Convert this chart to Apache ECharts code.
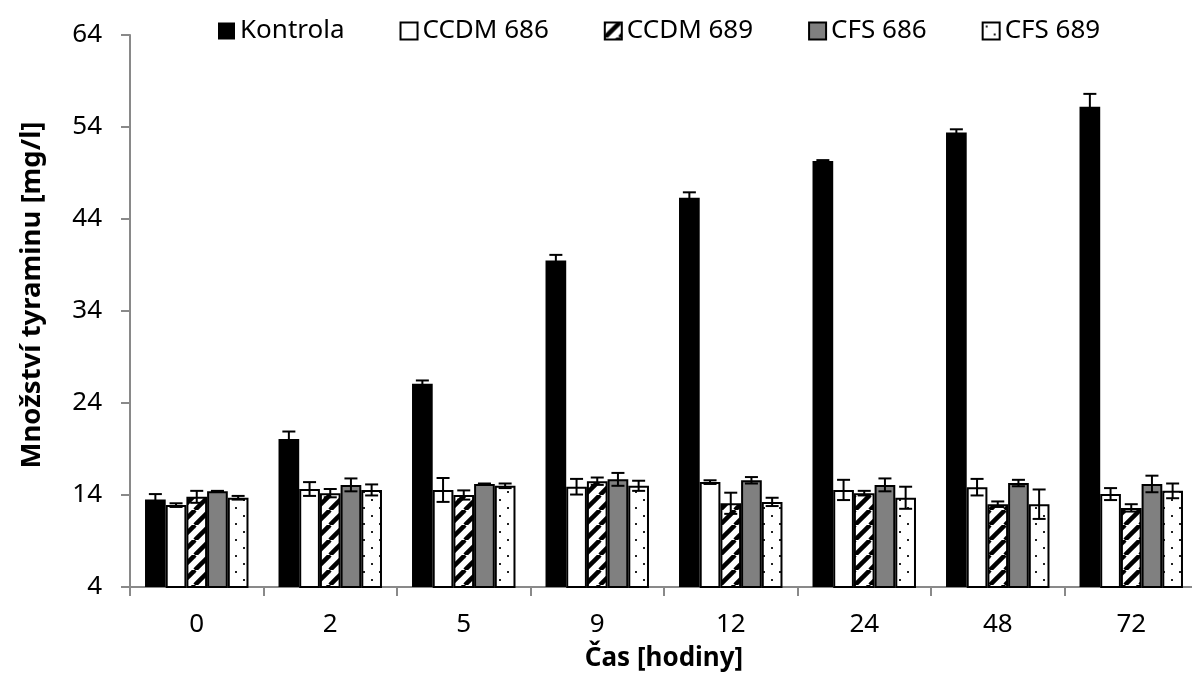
<!DOCTYPE html>
<html><head><meta charset="utf-8">
<script src="https://cdn.jsdelivr.net/npm/echarts@6/dist/echarts.min.js"></script>
<style>html,body{margin:0;padding:0;background:#fff}#c{width:1192px;height:678px}</style>
</head><body><div id="c"></div>
<script>
const categories = ['0', '2', '5', '9', '12', '24', '48', '72'];
const seriesNames = ['Kontrola', 'CCDM 686', 'CCDM 689', 'CFS 686', 'CFS 689'];
const kontrola    = [13.5, 20.1, 26.1, 39.5, 46.3, 50.3, 53.4, 56.2];
const kontrolaErr = [0.6, 0.8, 0.35, 0.6, 0.6, 0.1, 0.35, 1.4];
const ccdm686     = [12.9, 14.65, 14.55, 14.9, 15.4, 14.55, 14.85, 14.1];
const ccdm686Err  = [0.2, 0.75, 1.3, 0.85, 0.2, 1.1, 0.9, 0.65];
const ccdm689     = [13.8, 14.2, 14.0, 15.5, 13.1, 14.2, 13.0, 12.6];
const ccdm689Err  = [0.65, 0.45, 0.5, 0.4, 1.15, 0.25, 0.3, 0.4];
const cfs686      = [14.4, 15.1, 15.2, 15.7, 15.6, 15.1, 15.3, 15.2];
const cfs686Err   = [0.05, 0.7, 0.05, 0.7, 0.35, 0.7, 0.35, 0.9];
const cfs689      = [13.7, 14.55, 15.0, 15.0, 13.25, 13.7, 13.0, 14.45];
const cfs689Err   = [0.2, 0.6, 0.25, 0.55, 0.45, 1.2, 1.6, 0.8];
const yTicks = [4, 14, 24, 34, 44, 54, 64];

const values = [kontrola, ccdm686, ccdm689, cfs686, cfs689];
const errors = [kontrolaErr, ccdm686Err, ccdm689Err, cfs686Err, cfs689Err];
const GAP = 0.225;
const FONT = '"Noto Sans", sans-serif';

function hatchPattern() {
  const p = 15;
  const c = document.createElement('canvas');
  c.width = p; c.height = p;
  const g = c.getContext('2d');
  g.fillStyle = '#fff'; g.fillRect(0, 0, p, p);
  g.strokeStyle = '#000'; g.lineWidth = 4.5;
  for (let k = -1; k <= 1; k++) {
    g.beginPath(); g.moveTo(k * p, p); g.lineTo(k * p + p, 0); g.stroke();
  }
  return { image: c, repeat: 'repeat' };
}
function dotPattern() {
  const p = 16;
  const c = document.createElement('canvas');
  c.width = p; c.height = p;
  const g = c.getContext('2d');
  g.fillStyle = '#fff'; g.fillRect(0, 0, p, p);
  g.fillStyle = '#222';
  g.fillRect(3, 3, 2, 2); g.fillRect(11, 11, 2, 2);
  return { image: c, repeat: 'repeat' };
}

const fills = ['#000000', '#ffffff', hatchPattern(), '#808080', dotPattern()];

const barSeries = seriesNames.map((n, idx) => ({
  type: 'bar', name: n, data: values[idx],
  barGap: '0%', barCategoryGap: (GAP * 100) + '%',
  itemStyle: { color: fills[idx], borderColor: '#000', borderWidth: idx === 0 ? 0 : 2 },
  emphasis: { disabled: true }
}));

const errSeries = seriesNames.map((n, idx) => ({
  type: 'custom', name: n + ' err', z: 10, silent: true,
  data: categories.map((c, i) => [i, values[idx][i], errors[idx][i]]),
  encode: { x: 0, y: 1 },
  renderItem(params, api) {
    const i = api.value(0), v = api.value(1), e = api.value(2);
    const bandW = api.size([1, 0])[0];
    const barW = bandW * (1 - GAP) / 5;
    const cx = api.coord([i, v])[0] + (idx - 2) * barW;
    const top = api.coord([i, v + e])[1];
    const bot = api.coord([i, v - e])[1];
    const hw = 6.5;
    const st = { stroke: '#000', lineWidth: 2 };
    return { type: 'group', children: [
      { type: 'line', shape: { x1: cx, y1: top, x2: cx, y2: bot }, style: st },
      { type: 'line', shape: { x1: cx - hw, y1: top, x2: cx + hw, y2: top }, style: st },
      { type: 'line', shape: { x1: cx - hw, y1: bot, x2: cx + hw, y2: bot }, style: st }
    ]};
  }
}));

const chart = echarts.init(document.getElementById('c'));
chart.setOption({
  animation: false,
  backgroundColor: '#fff',
  textStyle: { fontFamily: FONT },
  legend: {
    data: seriesNames, left: 213, top: 13, itemWidth: 17, itemHeight: 17, itemGap: 55,
    icon: 'rect',
    textStyle: { fontFamily: FONT, fontSize: 26, color: '#000' }
  },
  grid: { left: 130, right: -6, top: 35, bottom: 91, containLabel: false, outerBoundsMode: 'none' },
  xAxis: {
    type: 'category', data: categories,
    axisLine: { lineStyle: { color: '#898989', width: 2 } },
    axisTick: { show: true, length: 9, interval: 0, lineStyle: { color: '#898989', width: 2 } },
    axisLabel: { fontFamily: FONT, fontSize: 26, color: '#000', margin: 25, interval: 0 },
    name: 'Čas [hodiny]', nameLocation: 'middle', nameGap: 59,
    nameTextStyle: { fontFamily: FONT, fontSize: 26, fontWeight: 'bold', color: '#000' }
  },
  yAxis: {
    type: 'value', min: 4, max: 64,
    splitLine: { show: false },
    axisLine: { show: true, lineStyle: { color: '#898989', width: 2 } },
    axisTick: { show: true, length: 9, customValues: yTicks, lineStyle: { color: '#898989', width: 2 } },
    axisLabel: { fontFamily: FONT, fontSize: 26, color: '#000', margin: 28, customValues: yTicks },
    name: 'Množství tyraminu [mg/l]', nameLocation: 'middle', nameGap: 84,
    nameTextStyle: { fontFamily: FONT, fontSize: 27.5, fontWeight: 'bold', color: '#000', padding: [0, 0, 0, 32] }
  },
  series: [...barSeries, ...errSeries]
});
</script></body></html>
